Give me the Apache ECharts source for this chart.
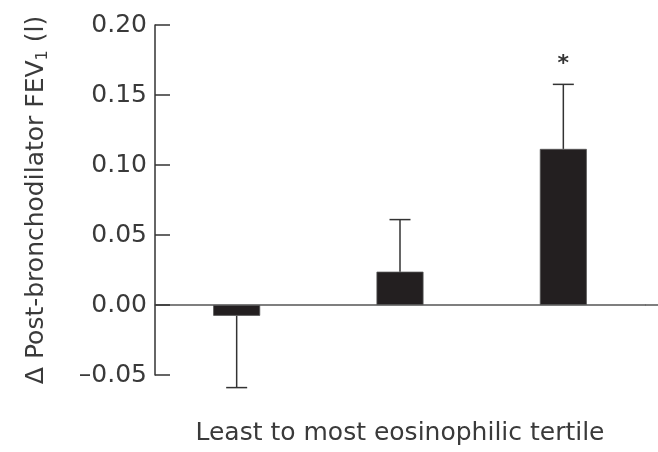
<!DOCTYPE html>
<html>
<head>
<meta charset="utf-8">
<script src="https://cdn.jsdelivr.net/npm/echarts@6/dist/echarts.min.js"></script>
<style>html,body{margin:0;padding:0;background:#fff}#c{width:658px;height:452px}</style>
</head>
<body>
<div id="c"></div>
<script>
const categories = ['Least', 'Middle', 'Most'];
const means = [-0.0077, 0.0238, 0.1115];
const errorEnds = [-0.059, 0.061, 0.1576];
const sigMarks = ['', '', '*'];
const yTicks = { min: -0.05, max: 0.20, interval: 0.05 };

const FONT = 'DejaVu Sans';
const TXT = '#3a3a3a';
const INK = '#231f20';

const chart = echarts.init(document.getElementById('c'));
const option = {
  animation: false,
  backgroundColor: '#fff',
  grid: { left: 155, right: 13, top: 25, bottom: 77 },
  xAxis: [{
    type: 'category', data: categories,
    axisLine: { onZero: true, lineStyle: { color: '#555', width: 1.5 } },
    axisTick: { show: false }, axisLabel: { show: false }, splitLine: { show: false }
  }, {
    type: 'category', data: categories, position: 'bottom',
    axisLine: { show: false, onZero: false }, axisTick: { show: false }, axisLabel: { show: false },
    name: 'Least to most eosinophilic tertile', nameLocation: 'middle', nameGap: 46,
    nameTextStyle: { fontFamily: FONT, fontSize: 25, color: TXT }
  }],
  yAxis: {
    type: 'value', min: yTicks.min, max: yTicks.max, interval: yTicks.interval,
    axisLine: { show: true, lineStyle: { color: '#333', width: 1.5 } },
    axisTick: { show: true, inside: true, length: 15, lineStyle: { color: '#333', width: 1.5 } },
    splitLine: { show: false },
    axisLabel: {
      fontFamily: FONT, fontSize: 25, color: TXT, margin: 8,
      formatter: v => (v < -1e-9 ? '\u2013' + Math.abs(v).toFixed(2) : Math.abs(v).toFixed(2))
    },
    name: '{a|\u0394 Post-bronchodilator FEV}{s|1}{a| (l)}',
    nameLocation: 'middle', nameGap: 104, nameRotate: 90,
    nameTextStyle: {
      rich: {
        a: { fontFamily: FONT, fontSize: 25, color: TXT, lineHeight: 30, verticalAlign: 'middle' },
        s: { fontFamily: FONT, fontSize: 16, color: TXT, lineHeight: 30, verticalAlign: 'bottom' }
      }
    }
  },
  series: [{
    type: 'bar', data: means, barWidth: 47,
    itemStyle: { color: INK, borderColor: '#555', borderWidth: 0.8 },
    z: 3
  }, {
    type: 'custom', z: 4,
    data: categories.map((c, i) => [i, means[i], errorEnds[i], sigMarks[i]]),
    renderItem: (params, api) => {
      const x = api.coord([api.value(0), 0])[0];
      const yb = api.coord([api.value(0), api.value(1)])[1];
      const ye = api.coord([api.value(0), api.value(2)])[1];
      const cap = 10.5;
      const st = { stroke: '#333', lineWidth: 1.5 };
      const children = [
        { type: 'line', shape: { x1: x, y1: yb, x2: x, y2: ye }, style: st },
        { type: 'line', shape: { x1: x - cap, y1: ye, x2: x + cap, y2: ye }, style: st }
      ];
      const mark = sigMarks[params.dataIndex];
      if (mark) {
        children.push({ type: 'text', x: x, y: ye - 20,
          style: { text: mark, fontFamily: FONT, fontSize: 22, fontWeight: 'bold', fill: '#333', align: 'center', verticalAlign: 'middle' } });
      }
      return { type: 'group', children };
    }
  }]
};
chart.setOption(option);
const zeroPx = chart.convertToPixel({ yAxisIndex: 0 }, 0);
const rightPx = chart.getWidth() - option.grid.right;
chart.setOption({
  graphic: [{ type: 'line', shape: { x1: rightPx, y1: zeroPx, x2: chart.getWidth(), y2: zeroPx },
    style: { stroke: '#555', lineWidth: 1.5 } }]
});
</script>
</body>
</html>
